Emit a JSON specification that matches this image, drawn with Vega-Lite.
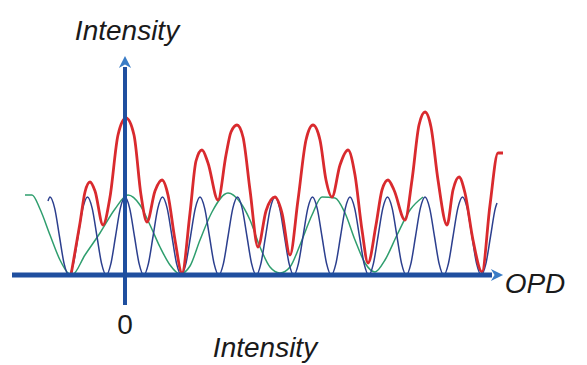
{
  "$schema": "https://vega.github.io/schema/vega-lite/v6.json",
  "width": 587,
  "height": 365,
  "padding": 0,
  "autosize": {"type": "fit", "contains": "padding"},
  "background": "white",
  "config": {"view": {"stroke": null}},
  "datasets": {
    "blue": [
      {"x": 48, "h": 74}, {"x": 50, "h": 78}, {"x": 54.7, "h": 66.6}, {"x": 59.4, "h": 39}, {"x": 64.1, "h": 11.4}, {"x": 68.75, "h": 0}, {"x": 73.4, "h": 11.4}, {"x": 78.1, "h": 39}, {"x": 82.8, "h": 66.6},
      {"x": 87.5, "h": 78}, {"x": 92.2, "h": 66.6}, {"x": 96.9, "h": 39}, {"x": 101.6, "h": 11.4}, {"x": 106.25, "h": 0}, {"x": 110.9, "h": 11.4}, {"x": 115.6, "h": 39}, {"x": 120.3, "h": 66.6},
      {"x": 125, "h": 78}, {"x": 129.7, "h": 66.6}, {"x": 134.4, "h": 39}, {"x": 139.1, "h": 11.4}, {"x": 143.75, "h": 0}, {"x": 148.4, "h": 11.4}, {"x": 153.1, "h": 39}, {"x": 157.8, "h": 66.6},
      {"x": 162.5, "h": 78}, {"x": 167.2, "h": 66.6}, {"x": 171.9, "h": 39}, {"x": 176.6, "h": 11.4}, {"x": 181.25, "h": 0}, {"x": 185.9, "h": 11.4}, {"x": 190.6, "h": 39}, {"x": 195.3, "h": 66.6},
      {"x": 200, "h": 78}, {"x": 204.7, "h": 66.6}, {"x": 209.4, "h": 39}, {"x": 214.1, "h": 11.4}, {"x": 218.75, "h": 0}, {"x": 223.4, "h": 11.4}, {"x": 228.1, "h": 39}, {"x": 232.8, "h": 66.6},
      {"x": 237.5, "h": 78}, {"x": 242.2, "h": 66.6}, {"x": 246.9, "h": 39}, {"x": 251.6, "h": 11.4}, {"x": 256.25, "h": 0}, {"x": 260.9, "h": 11.4}, {"x": 265.6, "h": 39}, {"x": 270.3, "h": 66.6},
      {"x": 275, "h": 78}, {"x": 279.7, "h": 66.6}, {"x": 284.4, "h": 39}, {"x": 289.1, "h": 11.4}, {"x": 293.75, "h": 0}, {"x": 298.4, "h": 11.4}, {"x": 303.1, "h": 39}, {"x": 307.8, "h": 66.6},
      {"x": 312.5, "h": 78}, {"x": 317.2, "h": 66.6}, {"x": 321.9, "h": 39}, {"x": 326.6, "h": 11.4}, {"x": 331.25, "h": 0}, {"x": 335.9, "h": 11.4}, {"x": 340.6, "h": 39}, {"x": 345.3, "h": 66.6},
      {"x": 350, "h": 78}, {"x": 354.7, "h": 66.6}, {"x": 359.4, "h": 39}, {"x": 364.1, "h": 11.4}, {"x": 368.75, "h": 0}, {"x": 373.4, "h": 11.4}, {"x": 378.1, "h": 39}, {"x": 382.8, "h": 66.6},
      {"x": 387.5, "h": 78}, {"x": 392.2, "h": 66.6}, {"x": 396.9, "h": 39}, {"x": 401.6, "h": 11.4}, {"x": 406.25, "h": 0}, {"x": 410.9, "h": 11.4}, {"x": 415.6, "h": 39}, {"x": 420.3, "h": 66.6},
      {"x": 425, "h": 78}, {"x": 429.7, "h": 66.6}, {"x": 434.4, "h": 39}, {"x": 439.1, "h": 11.4}, {"x": 443.75, "h": 0}, {"x": 448.4, "h": 11.4}, {"x": 453.1, "h": 39}, {"x": 457.8, "h": 66.6},
      {"x": 462.5, "h": 78}, {"x": 467.2, "h": 66.6}, {"x": 471.9, "h": 39}, {"x": 476.6, "h": 11.4}, {"x": 481.25, "h": 0}, {"x": 485.9, "h": 11.4}, {"x": 490.6, "h": 39}, {"x": 495.3, "h": 66.6},
      {"x": 497, "h": 72}
    ],
    "green": [
      {"x": 25, "h": 80}, {"x": 32, "h": 80}, {"x": 40, "h": 66}, {"x": 50, "h": 40}, {"x": 60, "h": 15},
      {"x": 68, "h": 2}, {"x": 72, "h": 0}, {"x": 85, "h": 20}, {"x": 100, "h": 42}, {"x": 115, "h": 66},
      {"x": 128, "h": 80}, {"x": 140, "h": 70}, {"x": 150, "h": 50}, {"x": 160, "h": 28}, {"x": 170, "h": 10},
      {"x": 180, "h": 1}, {"x": 190, "h": 9}, {"x": 200, "h": 35}, {"x": 212, "h": 63}, {"x": 228, "h": 82},
      {"x": 240, "h": 73}, {"x": 250, "h": 55}, {"x": 260, "h": 28}, {"x": 270, "h": 8}, {"x": 280, "h": 2},
      {"x": 290, "h": 8}, {"x": 300, "h": 30}, {"x": 312, "h": 60}, {"x": 322, "h": 78}, {"x": 335, "h": 77},
      {"x": 345, "h": 62}, {"x": 355, "h": 35}, {"x": 365, "h": 12}, {"x": 375, "h": 3}, {"x": 385, "h": 15},
      {"x": 397, "h": 40}, {"x": 410, "h": 65}, {"x": 423, "h": 78}
    ],
    "red": [
      {"x": 71, "h": 0}, {"x": 80, "h": 52}, {"x": 85, "h": 83}, {"x": 90, "h": 93}, {"x": 95, "h": 84},
      {"x": 103, "h": 50}, {"x": 110, "h": 78}, {"x": 118, "h": 140}, {"x": 126, "h": 157}, {"x": 134, "h": 140},
      {"x": 141, "h": 80}, {"x": 147, "h": 53}, {"x": 155, "h": 84}, {"x": 162, "h": 95}, {"x": 168, "h": 80},
      {"x": 175, "h": 35}, {"x": 182, "h": 2}, {"x": 190, "h": 62}, {"x": 196, "h": 114}, {"x": 202, "h": 125},
      {"x": 208, "h": 112}, {"x": 218, "h": 75}, {"x": 226, "h": 120}, {"x": 231, "h": 143}, {"x": 237, "h": 150},
      {"x": 243, "h": 138}, {"x": 250, "h": 85}, {"x": 258, "h": 28}, {"x": 266, "h": 64}, {"x": 275, "h": 78},
      {"x": 282, "h": 62}, {"x": 290, "h": 20}, {"x": 298, "h": 75}, {"x": 306, "h": 135}, {"x": 313, "h": 150},
      {"x": 320, "h": 135}, {"x": 326, "h": 95}, {"x": 332, "h": 78}, {"x": 340, "h": 110}, {"x": 348, "h": 125},
      {"x": 355, "h": 100}, {"x": 362, "h": 45}, {"x": 368, "h": 12}, {"x": 376, "h": 50}, {"x": 382, "h": 85},
      {"x": 388, "h": 95}, {"x": 394, "h": 85}, {"x": 405, "h": 55}, {"x": 412, "h": 95}, {"x": 419, "h": 150},
      {"x": 425, "h": 163}, {"x": 431, "h": 148}, {"x": 438, "h": 95}, {"x": 447, "h": 50}, {"x": 453, "h": 85},
      {"x": 459, "h": 98}, {"x": 465, "h": 82}, {"x": 473, "h": 35}, {"x": 482, "h": 3}, {"x": 490, "h": 70},
      {"x": 498, "h": 122}, {"x": 503, "h": 122}
    ],
    "axes": [
      {"x": 12, "x2": 492, "h": 0, "h2": 0, "w": 5},
      {"x": 125, "x2": 125, "h": -30, "h2": 208, "w": 4}
    ],
    "heads": [
      {"x": 497, "h": 0, "dir": "right"},
      {"x": 125, "h": 213, "dir": "up"}
    ],
    "labels": [
      {"x": 127, "h": 243, "text": "Intensity", "style": "italic"},
      {"x": 535, "h": -10, "text": "OPD", "style": "italic"},
      {"x": 125, "h": -51, "text": "0", "style": "normal"},
      {"x": 265, "h": -74, "text": "Intensity", "style": "italic"}
    ]
  },
  "encoding": {
    "x": {"field": "x", "type": "quantitative", "scale": {"domain": [0, 587], "nice": false, "zero": false}, "axis": null},
    "y": {"field": "h", "type": "quantitative", "scale": {"domain": [-90, 275], "nice": false, "zero": false}, "axis": null}
  },
  "layer": [
    {
      "data": {"name": "green"},
      "mark": {"type": "line", "interpolate": "monotone", "color": "#2f9e6e", "strokeWidth": 1.5, "clip": false},
      "encoding": {}
    },
    {
      "data": {"name": "blue"},
      "mark": {"type": "line", "interpolate": "monotone", "color": "#2c3f8e", "strokeWidth": 1.5, "clip": false},
      "encoding": {}
    },
    {
      "data": {"name": "red"},
      "mark": {"type": "line", "interpolate": "monotone", "color": "#d92a2e", "strokeWidth": 2.8, "clip": false},
      "encoding": {}
    },
    {
      "data": {"name": "axes"},
      "mark": {"type": "rule", "color": "#1f4f9f"},
      "encoding": {
        "x2": {"field": "x2"},
        "y2": {"field": "h2"},
        "strokeWidth": {"field": "w", "type": "quantitative", "scale": null}
      }
    },
    {
      "data": {"name": "heads"},
      "mark": {"type": "point", "filled": true, "opacity": 1, "color": "#3a7cc6", "size": 150},
      "encoding": {
        "shape": {
          "field": "dir", "type": "nominal", "legend": null,
          "scale": {"domain": ["right", "up"], "range": ["M -1 -1 L 1 0 L -1 1 L -0.4 0 Z", "M -1 1 L 0 -1 L 1 1 L 0 0.4 Z"]}
        }
      }
    },
    {
      "data": {"name": "labels"},
      "transform": [{"filter": "datum.style === 'italic'"}],
      "mark": {"type": "text", "font": "Liberation Sans", "fontStyle": "italic", "fontSize": 28, "color": "#1a1a1a", "baseline": "middle", "align": "center"},
      "encoding": {"text": {"field": "text"}}
    },
    {
      "data": {"name": "labels"},
      "transform": [{"filter": "datum.style === 'normal'"}],
      "mark": {"type": "text", "font": "Liberation Sans", "fontSize": 28, "color": "#1a1a1a", "baseline": "middle", "align": "center"},
      "encoding": {"text": {"field": "text"}}
    }
  ]
}
